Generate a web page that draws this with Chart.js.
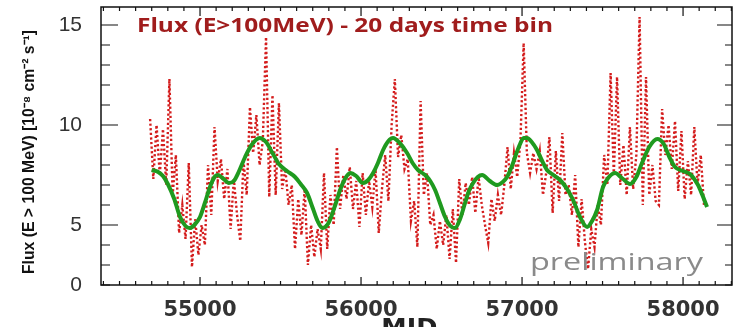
<!DOCTYPE html>
<html>
<head>
<meta charset="utf-8">
<script src="https://cdn.jsdelivr.net/npm/chart.js@4.4.1/dist/chart.umd.min.js"></script>
<style>
  html, body { margin: 0; padding: 0; background: #fff; }
  #wrap { width: 740px; height: 327px; overflow: hidden; }
</style>
</head>
<body>
<div id="wrap"><canvas id="flux" width="740" height="327"></canvas></div>
<script>
// 20-day binned flux (E>100 MeV), units of 1e-8 cm^-2 s^-1
const fluxBinStart = 54690;
const fluxBinDays = 20;
const fluxValues = [
  10.3, 7.3, 10.0, 7.5, 9.8, 7.0, 12.3, 6.5, 8.5, 4.6, 6.0, 4.3, 8.1, 2.9,
  5.3, 3.5, 5.0, 4.0, 8.0, 5.5, 9.9, 7.2, 8.3, 6.3, 7.8, 4.8, 7.3, 5.5,
  4.2, 8.2, 6.5, 10.9, 8.6, 10.5, 8.0, 9.2, 14.4, 6.4, 11.5, 6.5, 11.1, 6.8, 7.8,
  6.0, 7.0, 3.8, 6.3, 4.5, 6.8, 3.0, 5.0, 3.4, 4.8, 3.8, 7.6, 3.8, 6.5, 5.0,
  8.9, 5.8, 7.5, 6.3, 7.9, 5.8, 7.2, 4.9, 7.6, 5.5, 7.2, 5.9, 7.8, 4.6, 6.8,
  8.5, 6.2, 10.0, 12.3, 8.4, 9.5, 7.8, 8.3, 5.2, 6.2, 3.9, 11.2, 6.5, 7.6, 5.0,
  5.5, 3.8, 5.2, 4.0, 5.5, 3.3, 5.8, 3.1, 7.3, 5.5, 7.1, 6.0, 7.4, 5.6, 7.4,
  6.0, 5.0, 4.1, 6.3, 5.2, 6.5, 5.5, 7.0, 8.9, 6.8, 8.6, 7.4, 9.2, 14.1, 8.6,
  7.6, 8.6, 7.8, 8.7, 6.5, 7.6, 9.4, 5.6, 8.7, 6.2, 9.6, 6.5, 7.0, 5.5, 7.5,
  3.9, 6.3, 4.2, 2.8, 4.8, 3.9, 6.0, 5.0, 8.5, 7.0,
  12.6, 7.5, 12.4, 7.0, 9.0, 6.5, 9.9, 6.8, 8.5, 15.4, 6.0, 12.4, 6.5, 8.0, 6.2,
  6.0, 10.8, 8.5, 10.0, 7.8, 10.2, 6.7, 9.7, 6.3, 8.2, 6.5, 9.9, 7.0, 8.5, 6.0
];

// smooth periodic fit (green curve)
const fitMjd = [
  54700, 54740, 54770, 54800, 54840, 54876, 54910, 54935, 54965, 55000,
  55030, 55062, 55090, 55110, 55140, 55180, 55210, 55240, 55280, 55320,
  55370, 55410, 55450, 55490, 55540, 55590, 55625, 55665, 55700, 55730,
  55760, 55790, 55807, 55840, 55870, 55900, 55932, 55970, 56012, 56045,
  56075, 56105, 56137, 56170, 56199, 56240, 56286, 56320, 56354, 56398,
  56430, 56460, 56490, 56522, 56555, 56584, 56615, 56646, 56670, 56696,
  56725, 56752, 56800, 56845, 56880, 56907, 56935, 56957, 56985, 57010,
  57031, 57060, 57093, 57125, 57155, 57195, 57236, 57280, 57317, 57360,
  57404, 57435, 57466, 57503, 57540, 57578, 57620, 57671, 57710, 57745,
  57790, 57840, 57880, 57915, 57950, 58000, 58043, 58093, 58120, 58149
];
const fitValues = [
  7.75, 7.65, 7.45, 7.05, 6.3, 5.4, 4.95, 4.85, 5.0, 5.4,
  6.1, 6.9, 7.4, 7.5, 7.35, 7.1, 7.2, 7.65, 8.4, 9.0,
  9.35, 9.15, 8.6, 8.05, 7.7, 7.4, 7.05, 6.6, 5.85, 5.2,
  4.85, 5.0, 5.25, 6.0, 6.75, 7.3, 7.6, 7.45, 7.1, 7.25,
  7.6, 8.1, 8.75, 9.2, 9.35, 9.1, 8.6, 8.1, 7.75, 7.5,
  7.2, 6.75, 6.1, 5.4, 4.95, 4.85, 5.3, 6.1, 6.7, 7.1,
  7.4, 7.5, 7.2, 7.0, 7.15, 7.4, 7.9, 8.4, 9.0, 9.35,
  9.35, 9.15, 8.75, 8.2, 7.75, 7.5, 7.25, 6.8, 6.25, 5.4,
  4.9, 5.2, 5.75, 6.9, 7.4, 7.6, 7.35, 7.05, 7.4, 8.1,
  8.9, 9.3, 9.05, 8.4, 7.9, 7.7, 7.55, 7.0, 6.5, 5.9
];

const xTickValues = [55000, 56000, 57000, 58000];
const yTickValues = [2, 5, 10, 15];
const yTickLabels = ["0", "5", "10", "15"];
const X_MINOR = 100;
const Y_MINOR = 1;

const TITLE_TEXT = "Flux (E>100MeV) - 20 days time bin";
const YTITLE_TEXT = "Flux (E > 100 MeV) [10\u207B\u2078 cm\u207B\u00B2 s\u207B\u00B9]";

// draw text squeezed/stretched to a given width
function fitText(ctx, text, x, y, font, color, width, rot) {
  ctx.save();
  ctx.font = font;
  ctx.fillStyle = color;
  const w = ctx.measureText(text).width;
  ctx.translate(x, y);
  if (rot) ctx.rotate(rot);
  ctx.scale(width / w, 1);
  ctx.fillText(text, 0, 0);
  ctx.restore();
}

const frameTicks = {
  id: "frameTicks",
  afterDatasetsDraw(chart) {
    const { ctx, chartArea: a, scales } = chart;
    const xs = scales.x, ys = scales.y;
    ctx.save();
    ctx.strokeStyle = "#111";
    ctx.lineWidth = 1.5;
    ctx.strokeRect(a.left, a.top, a.right - a.left, a.bottom - a.top);

    ctx.lineWidth = 1.2;
    ctx.beginPath();
    for (let v = Math.ceil(xs.min / X_MINOR) * X_MINOR; v <= xs.max; v += X_MINOR) {
      const px = xs.getPixelForValue(v);
      const major = v % 1000 === 0;
      const len = major ? 8 : 4;
      ctx.moveTo(px, a.bottom); ctx.lineTo(px, a.bottom - len);
      ctx.moveTo(px, a.top); ctx.lineTo(px, a.top + len + (major ? 1 : 0));
    }
    for (let v = Math.ceil(ys.min); v <= ys.max; v += Y_MINOR) {
      const py = ys.getPixelForValue(v);
      const major = v % 5 === 0;
      ctx.moveTo(a.left, py); ctx.lineTo(a.left + (major ? 17 : 9), py);
      ctx.moveTo(a.right, py); ctx.lineTo(a.right - (major ? 15 : 7), py);
    }
    ctx.stroke();

    // texts inside / around the frame
    ctx.textAlign = "left";
    ctx.textBaseline = "alphabetic";
    fitText(ctx, TITLE_TEXT, a.left + 36, a.top + 25, "bold 20px 'Open Sans'", "#a01c1c", 416);
    fitText(ctx, "preliminary", a.left + 429, a.top + 263, "23px 'Open Sans'", "#8a8a8a", 173);

    ctx.textAlign = "center";
    ctx.textBaseline = "middle";
    fitText(ctx, YTITLE_TEXT, 30, (a.top + a.bottom) / 2 + 6, "bold 16px 'Liberation Sans Narrow', 'Liberation Sans'", "#111", 244, -Math.PI / 2);

    ctx.textBaseline = "alphabetic";
    fitText(ctx, "MJD", xs.getPixelForValue(56300), a.bottom + 50, "bold 23px 'DejaVu Sans'", "#222", 56);
    ctx.restore();
  }
};

new Chart(document.getElementById("flux"), {
  type: "line",
  data: {
    datasets: [
      {
        label: "flux",
        data: fluxValues.map((v, i) => ({ x: fluxBinStart + i * fluxBinDays, y: v })),
        borderColor: "#d41c1c",
        borderWidth: 2.4,
        borderDash: [2.2, 2.4],
        pointRadius: 0,
        tension: 0,
        order: 2,
      },
      {
        label: "fit",
        data: fitMjd.map((m, i) => ({ x: m, y: fitValues[i] })),
        borderColor: "#1f9a1f",
        borderWidth: 4,
        pointRadius: 0,
        cubicInterpolationMode: "monotone",
        order: 1,
      },
    ],
  },
  options: {
    responsive: false,
    animation: false,
    devicePixelRatio: 1,
    parsing: false,
    layout: { padding: { left: 0, top: 7, right: 8, bottom: 0 } },
    plugins: { legend: { display: false }, tooltip: { enabled: false } },
    scales: {
      x: {
        type: "linear",
        min: 54385,
        max: 58304,
        afterBuildTicks: (s) => { s.ticks = xTickValues.map((v) => ({ value: v })); },
        afterFit: (s) => { s.height = 42; s.paddingLeft = 0; s.paddingRight = 0; },
        grid: { display: false, drawTicks: false },
        border: { display: false },
        ticks: {
          autoSkip: false,
          maxRotation: 0,
          padding: 13,
          color: "#333",
          font: { family: "'DejaVu Sans'", size: 21, weight: "bold" },
          callback: (v) => String(v),
        },
      },
      y: {
        min: 2,
        max: 15.9,
        afterBuildTicks: (s) => { s.ticks = yTickValues.map((v) => ({ value: v })); },
        afterFit: (s) => { s.width = 101; s.paddingTop = 0; s.paddingBottom = 0; },
        grid: { display: false, drawTicks: false },
        border: { display: false },
        ticks: {
          padding: 19,
          color: "#333",
          font: { family: "'Liberation Sans'", size: 21 },
          callback: (v) => yTickLabels[yTickValues.indexOf(v)],
        },
      },
    },
  },
  plugins: [frameTicks],
});
</script>
</body>
</html>
